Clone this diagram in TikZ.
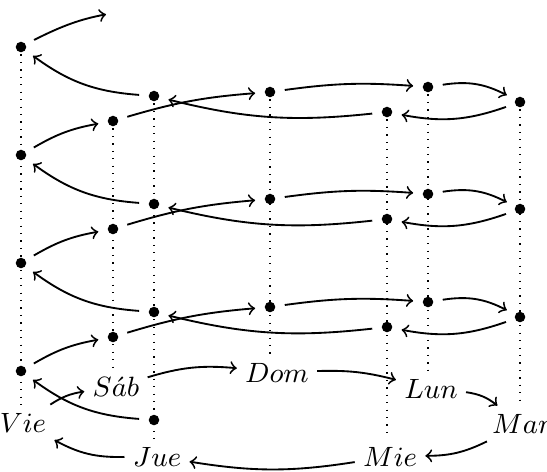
\documentclass[tikz,border=0pt]{standalone}
\begin{document}
\begin{tikzpicture}[x=0.3226pt,y=-0.3226pt,
  dot/.style={circle, fill, inner sep=0pt, minimum size=3.4pt, outer sep=3.1pt},
  day/.style={inner sep=2.5pt, font=\small},
  guide/.style={dotted},
  hop/.style={->, semithick}]
\useasboundingbox (0,0) rectangle (547,471);
% day labels
\node[day,anchor=base] (vie) at (23,432) {$Vie$};
\node[day,anchor=base] (sab) at (116,396) {$S\acute{a}b$};
\node[day,anchor=base] (dom) at (277,382) {$Dom$};
\node[day,anchor=base] (lun) at (431,398) {$Lun$};
\node[day,anchor=base] (mar) at (522,433) {$Mar$};
\node[day,anchor=base] (mie) at (390,466) {$Mie$};
\node[day,anchor=base] (jue) at (157,466) {$Jue$};
% top of each guide
\coordinate (v4c) at (21,47);
\coordinate (s3c) at (113,121);
\coordinate (d3c) at (270,92);
\coordinate (l3c) at (428,87);
\coordinate (m3c) at (520,102);
\coordinate (w3c) at (387,112);
\coordinate (j3c) at (154,96);
% guides
\draw[guide] (v4c) -- (v4c |- vie.north);
\draw[guide] (s3c) -- (s3c |- sab.north);
\draw[guide] (d3c) -- (d3c |- dom.north);
\draw[guide] (l3c) -- (l3c |- lun.north);
\draw[guide] (m3c) -- (m3c |- mar.north);
\draw[guide] (w3c) -- (w3c |- mie.north);
\draw[guide] (j3c) -- (j3c |- jue.north);
% dots
\node[dot] (j0) at (154,420) {};
\node[dot] (v1) at (21,371) {};
\node[dot] (s1) at (113,337) {};
\node[dot] (d1) at (270,307) {};
\node[dot] (l1) at (428,302) {};
\node[dot] (m1) at (520,317) {};
\node[dot] (w1) at (387,327) {};
\node[dot] (j1) at (154,312) {};
\node[dot] (v2) at (21,263) {};
\node[dot] (s2) at (113,229) {};
\node[dot] (d2) at (270,199) {};
\node[dot] (l2) at (428,194) {};
\node[dot] (m2) at (520,209) {};
\node[dot] (w2) at (387,219) {};
\node[dot] (j2) at (154,204) {};
\node[dot] (v3) at (21,155) {};
\node[dot] (s3) at (113,121) {};
\node[dot] (d3) at (270,92) {};
\node[dot] (l3) at (428,87) {};
\node[dot] (m3) at (520,102) {};
\node[dot] (w3) at (387,112) {};
\node[dot] (j3) at (154,96) {};
\node[dot] (v4) at (21,47) {};
\coordinate (s4) at (113,13);
% base ring
\draw[hop] (vie) to[bend left=12] (sab);
\draw[hop] (sab) to[bend left=11] (dom);
\draw[hop] (dom) to[bend left=8] (lun);
\draw[hop] (lun) to[bend left=15] (mar);
\draw[hop] (mar) to[bend left=13] (mie);
\draw[hop] (mie) to[bend left=9] (jue);
\draw[hop] (jue) to[bend left=15] (vie);
% helix
\draw[hop] (j0) to[bend left=16] (v1);
\foreach \a/\b/\c/\d/\e/\f/\g/\h in {v1/s1/d1/l1/m1/w1/j1/v2, v2/s2/d2/l2/m2/w2/j2/v3, v3/s3/d3/l3/m3/w3/j3/v4}{
  \draw[hop] (\a) to[bend left=10] (\b);
  \draw[hop] (\b) to[bend left=6] (\c);
  \draw[hop] (\c) to[bend left=6] (\d);
  \draw[hop] (\d) to[bend left=18] (\e);
  \draw[hop] (\e) to[bend left=15] (\f);
  \draw[hop] (\f) to[bend left=10] (\g);
  \draw[hop] (\g) to[bend left=16] (\h);
}
\draw[hop,shorten >=2.3pt] (v4) to[bend left=8] (s4);
\end{tikzpicture}
\end{document}
